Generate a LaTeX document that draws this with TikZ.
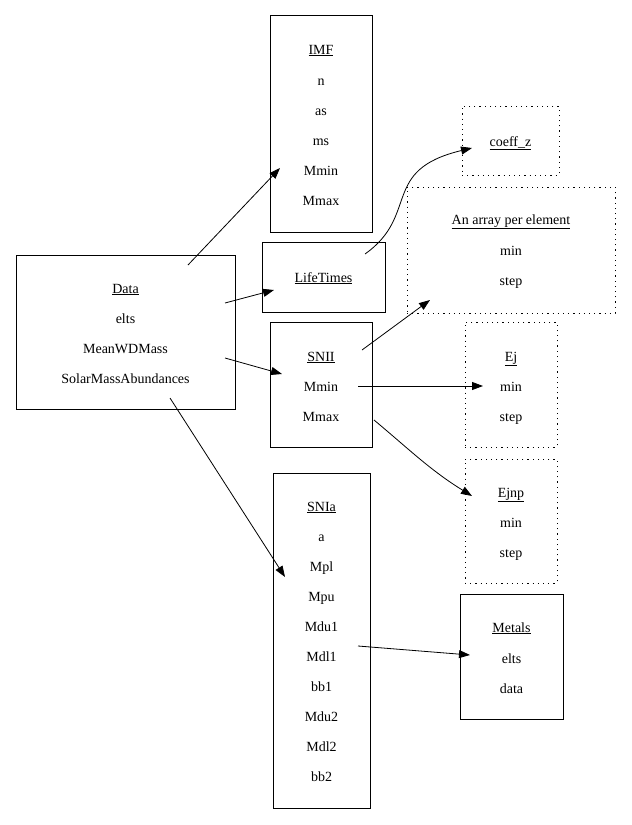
\documentclass[tikz,border=0pt]{standalone}
\usepackage{fontspec}
\setmainfont{Liberation Serif}
\usetikzlibrary{arrows.meta}
\begin{document}
\begin{tikzpicture}[x=1pt,y=-1pt,
  box/.style={draw,line width=0.8pt,inner sep=0pt},
  dbox/.style={draw,line width=1pt,dash pattern=on 1.2pt off 4pt,inner sep=0pt},
  t/.style={font=\fontsize{14}{16}\selectfont,inner sep=0pt,anchor=base},
  arr/.style={line width=0.8pt,-{Triangle[length=11pt,width=8pt]}}]
\useasboundingbox (0,0) rectangle (632,825);
% boxes
\node[box,minimum width=102pt,minimum height=217pt] (imf) at (321,123.5) {};
\node[box,minimum width=219pt,minimum height=154pt] (data) at (125.5,332) {};
\node[box,minimum width=123pt,minimum height=70pt] (lt) at (323.5,277) {};
\node[box,minimum width=102pt,minimum height=125pt] (snii) at (321,384.5) {};
\node[box,minimum width=97pt,minimum height=335pt] (snia) at (321.5,640.5) {};
\node[dbox,minimum width=97pt,minimum height=69pt] (cz) at (510.5,140.5) {};
\node[dbox,minimum width=208pt,minimum height=126pt] (arr) at (511,250) {};
\node[dbox,minimum width=92pt,minimum height=125pt] (ej) at (511,384.5) {};
\node[dbox,minimum width=92pt,minimum height=124pt] (ejnp) at (511,521) {};
\node[box,minimum width=103pt,minimum height=125pt] (met) at (511.5,656.5) {};
% texts
\foreach \n/\y/\s in {i1/54/\underline{IMF},i2/85/n,i3/115/as,i4/145/ms,i5/175/Mmin,i6/205/Mmax}
  \node[t] (\n) at (321,\y) {\s};
\foreach \n/\y/\s in {d1/293/\underline{Data},d2/323/elts,d3/353/MeanWDMass,d4/383/SolarMassAbundances}
  \node[t] (\n) at (125.5,\y) {\s};
\node[t] (l1) at (323.5,282) {\underline{LifeTimes}};
\foreach \n/\y/\s in {s1/361/\underline{SNII},s2/391/Mmin,s3/421/Mmax}
  \node[t] (\n) at (321,\y) {\s};
\foreach \n/\y/\s in {a1/511/\underline{SNIa},a2/541/a,a3/571/Mpl,a4/601/Mpu,a5/631/Mdu1,a6/661/Mdl1,a7/691/bb1,a8/721/Mdu2,a9/751/Mdl2,a10/781/bb2}
  \node[t] (\n) at (321.5,\y) {\s};
\node[t] (c1) at (510.5,146) {\underline{coeff\_z}};
\foreach \n/\y/\s in {r1/224/\underline{An array per element},r2/255/min,r3/285/step}
  \node[t] (\n) at (511,\y) {\s};
\foreach \n/\y/\s in {e1/361/\underline{Ej},e2/391/min,e3/421/step}
  \node[t] (\n) at (511,\y) {\s};
\foreach \n/\y/\s in {p1/497/\underline{Ejnp},p2/527/min,p3/557/step}
  \node[t] (\n) at (511,\y) {\s};
\foreach \n/\y/\s in {m1/632/\underline{Metals},m2/663/elts,m3/693/data}
  \node[t] (\n) at (511.5,\y) {\s};
% endpoints
\coordinate (dA) at (188,265); \coordinate (imfA) at (280,168);
\coordinate (dB) at (225,303); \coordinate (ltA) at (274,290);
\coordinate (dC) at (225,358); \coordinate (sA) at (282,374);
\coordinate (dD) at (170,398); \coordinate (saA) at (285,577);
\coordinate (ltB) at (365,254); \coordinate (czA) at (472,148);
\coordinate (sB) at (362,350); \coordinate (arA) at (430,300);
\coordinate (sC) at (358,386); \coordinate (ejA) at (483,386);
\coordinate (sD) at (374,420); \coordinate (epA) at (472,496);
\coordinate (saB) at (358,646); \coordinate (mA) at (470,655);
\draw[arr] (dA) -- (imfA);
\draw[arr] (dB) -- (ltA);
\draw[arr] (dC) -- (sA);
\draw[arr] (dD) -- (saA);
\draw[arr] (ltB) .. controls (420,215) and (380,170) .. (czA);
\draw[arr] (sB) -- (arA);
\draw[arr] (sC) -- (ejA);
\draw[arr] (sD) .. controls (410,450) and (430,470) .. (epA);
\draw[arr] (saB) -- (mA);
\end{tikzpicture}
\end{document}
